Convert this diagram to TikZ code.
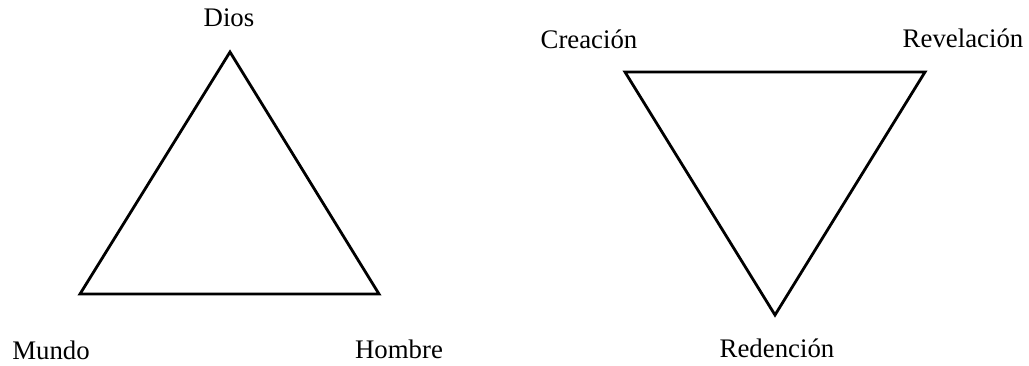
\documentclass[tikz,border=0pt]{standalone}
\usepackage{fontspec}
\setmainfont{Liberation Serif}
\usepackage{tikz}
\tikzset{
  tri/.style={draw=black,line width=1.4pt,line join=miter},
  lbl/.style={anchor=base,inner sep=0pt,font=\fontsize{13.4}{16}\selectfont}
}
\begin{document}
\begin{tikzpicture}[x=0.5pt,y=-0.5pt]
\useasboundingbox (0,0) rectangle (1029,365);
\coordinate (dios) at (230,52);
\coordinate (mundo) at (80,294);
\coordinate (hombre) at (379,294);
\coordinate (crea) at (625,72);
\coordinate (reve) at (925,72);
\coordinate (rede) at (775,315);
\draw[tri] (dios) -- (hombre) -- (mundo) -- cycle;
\draw[tri] (crea) -- (reve) -- (rede) -- cycle;
\node[lbl] (tdios) at (229,26) {Dios};
\node[lbl] (tmundo) at (51,359) {Mundo};
\node[lbl] (thombre) at (399,358) {Hombre};
\node[lbl] (tcrea) at (589,48) {Creación};
\node[lbl] (treve) at (963,47) {Revelación};
\node[lbl] (trede) at (777,357) {Redención};
\end{tikzpicture}
\end{document}
